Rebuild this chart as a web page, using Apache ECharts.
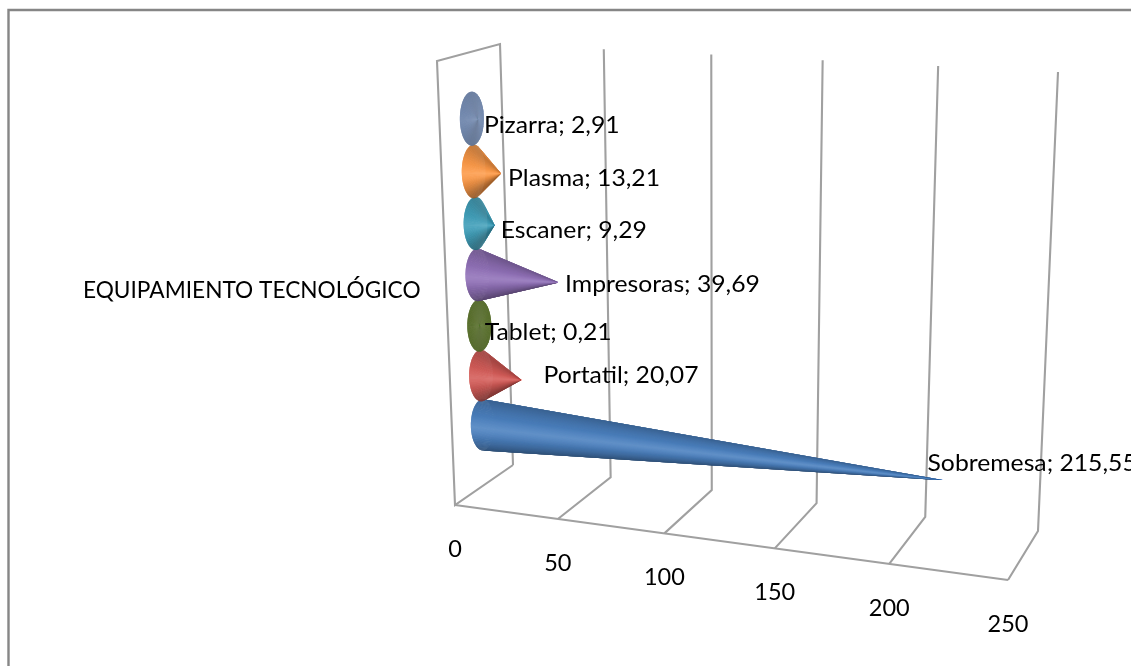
<!DOCTYPE html>
<html><head><meta charset="utf-8">
<style>html,body{margin:0;padding:0;background:#fff}#c{width:1131px;height:666px}</style>
<script src="https://cdn.jsdelivr.net/npm/echarts@6/dist/echarts.min.js"></script>
</head><body><div id="c"></div>
<script>
// ---- data ----
var categories = ['Sobremesa','Portatil','Tablet','Impresoras','Escaner','Plasma','Pizarra'];
var values = [215.55,20.07,0.21,39.69,9.29,13.21,2.91];
var xTicks = [0,50,100,150,200,250];
var axisTitle = 'EQUIPAMIENTO TECNOLÓGICO';

// ---- styling ----
var coneColors = ['#4a7ebb','#cf5a56','#566c2b','#8e6fb4','#3f9bb5','#f79646','#6f85aa'];
var labelNudge = [[-18,-17],[22,-5],[5,7],[6,2],[6,5],[7,5],[6,6]];
var FONT = 'Lato, Carlito, Calibri, sans-serif', FS = 24;
var GRID = {left:100, top:100, width:800, height:400};
var BAND = [0.08, 0.906];         // height range covered by the category bands
var WARP = 0.914, WARP_H = 0.96;  // perspective foreshortening along value and height
// box corners in the picture: F front, B back; b bottom, t top; 0 / 1 axis ends
var C = {Fb0:[455,505],Fb1:[1008,580],Bb0:[513,465],Bb1:[1038,531],
         Ft0:[437,61],Ft1:[1023,98],Bt0:[500,44],Bt1:[1058,72]};
function mix(a,b,t){return [a[0]+(b[0]-a[0])*t,a[1]+(b[1]-a[1])*t];}
function warp(u,w){return u*w/(1-u+u*w);}
// value fraction u, depth d (0 front .. 1 back), height h (0..1) -> picture point
function project(u,d,h){
  var s=warp(u,WARP);
  var b=mix(mix(C.Fb0,C.Fb1,s),mix(C.Bb0,C.Bb1,s),d);
  var t=mix(mix(C.Ft0,C.Ft1,s),mix(C.Bt0,C.Bt1,s),d);
  return mix(b,t,h);
}
function uOf(px){return (px[0]-GRID.left)/GRID.width;}
function hOf(px){
  var f=(GRID.top+GRID.height-px[1])/GRID.height;          // 0..1 over the bands
  var f0=1/14, f1=13/14, g=(f-f0)/(f1-f0);                 // 0..1 between first and last centre
  return BAND[0]+(BAND[1]-BAND[0])*(f0+(f1-f0)*warp(g,WARP_H));
}
function shade(hex,k,w){
  var n=parseInt(hex.slice(1),16),r=n>>16,g=n>>8&255,b=n&255;
  function f(c){return Math.round(Math.min(255,c*k+(255-c)*w));}
  return 'rgb('+f(r)+','+f(g)+','+f(b)+')';
}
function renderCone(params,api){
  var v=api.value(0),cat=api.value(1);
  var end=api.coord([v,cat]),start=api.coord([0,cat]);
  var h=hOf(start);
  var c=project(0,0.5,h),tip=project(uOf(end),0.5,h);
  c[0]+=1;tip[0]+=1;
  var rx=12,ry=25.3+2*h,col=coneColors[params.dataIndex],N=200,back=[],front=[];
  var contrast=Math.min(1,0.2+(tip[0]-c[0])/30);
  for(var i=0;i<N;i++){
    var a0=i/N*2*Math.PI,a1=(i+2)/N*2*Math.PI,am=(i+0.5)/N*2*Math.PI;
    var d=Math.sin(am)-0.08,dd=Math.abs(d);
    var k=1.02-contrast*(d<0?0.2:0.46)*dd*dd,w=contrast*0.12*Math.max(0,1-dd*2.2);
    var el={type:'polygon',shape:{points:[tip,
      [c[0]+rx*Math.cos(a0),c[1]+ry*Math.sin(a0)],
      [c[0]+rx*Math.cos(a1),c[1]+ry*Math.sin(a1)]]},
      style:{fill:shade(col,k,w)},silent:true};
    (Math.cos(am)<0?front:back).push(el);
  }
  var nudge=labelNudge[params.dataIndex];
  var txt=categories[params.dataIndex]+'; '+String(v).replace('.',',');
  return {type:'group',children:back.concat(front).concat([{
    type:'text',z2:50,x:tip[0]+nudge[0],y:tip[1]+nudge[1],scaleX:1.03,style:{text:txt,fill:'#000',
      font:FS+'px '+FONT,textAlign:'left',textVerticalAlign:'middle'}}])};
}
function renderTick(params,api){
  var t=api.value(0),px=api.coord([t,0]),u=uOf(px);
  var F=project(u,0,0),B=project(u,1,0),T=project(u,1,1);
  var st={stroke:'#a0a0a0',fill:'none',lineWidth:2.1};
  var pts=[F,B,T];
  if(t===xTicks[0]){pts=[B,F,project(u,0,1),T,B];}
  var kids=[{type:'polyline',shape:{points:pts},style:st},
    {type:'text',x:F[0],y:F[1]+44,scaleX:0.98,style:{text:String(t),fill:'#000',font:FS+'px '+FONT,
      textAlign:'center',textVerticalAlign:'middle'}}];
  if(t===xTicks[0]){kids.push({type:'line',shape:{x1:C.Fb0[0],y1:C.Fb0[1],x2:C.Fb1[0],y2:C.Fb1[1]},style:st});}
  return {type:'group',children:kids};
}
var chart=echarts.init(document.getElementById('c'),null,{renderer:'canvas'});
chart.setOption({
  animation:false,backgroundColor:'#fff',
  grid:{left:GRID.left,top:GRID.top,width:GRID.width,height:GRID.height},
  xAxis:{type:'value',min:0,max:250,interval:50,show:false},
  yAxis:{type:'category',data:categories,show:false},
  tooltip:{show:false},
  graphic:[
    {type:'rect',silent:true,shape:{x:8.5,y:10,width:1400,height:900},style:{fill:'none',stroke:'#868686',lineWidth:2.4}},
    {type:'text',silent:true,x:83,y:291,scaleX:0.985,style:{text:axisTitle,fill:'#000',font:'23px '+FONT,textAlign:'left',textVerticalAlign:'middle'}}
  ],
  series:[
    {type:'custom',coordinateSystem:'cartesian2d',z:1,silent:true,clip:false,
     data:xTicks.map(function(t){return [t];}),encode:{x:0},renderItem:renderTick},
    {type:'custom',coordinateSystem:'cartesian2d',z:2,silent:true,clip:false,
     data:values.map(function(v,i){return [v,i];}),encode:{x:0,y:1},renderItem:renderCone}
  ]
});
</script></body></html>
